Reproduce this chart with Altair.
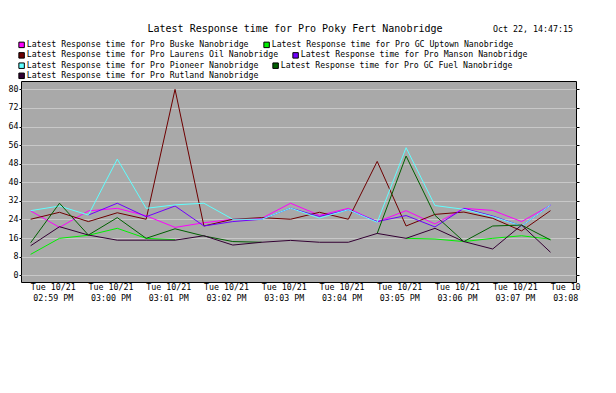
import altair as alt
import pandas as pd

TITLE = "Latest Response time for Pro Poky Fert Nanobridge"
STAMP = "Oct 22, 14:47:15"

SERIES = [
    "Latest Response time for Pro Buske Nanobridge",
    "Latest Response time for Pro GC Uptown Nanobridge",
    "Latest Response time for Pro Laurens Oil Nanobridge",
    "Latest Response time for Pro Manson Nanobridge",
    "Latest Response time for Pro Pioneer Nanobridge",
    "Latest Response time for Pro GC Fuel Nanobridge",
    "Latest Response time for Pro Rutland Nanobridge",
]
COLORS = ["#FF00FF", "#00F000", "#6E0000", "#7000FF", "#60FFFF", "#006000", "#330033"]

# legend entries flow two per line, as in the reference
LEGEND_ROWS = [[0, 1], [2, 3], [4, 5], [6]]
LEGEND_ROW_Y = [-40.3, -29.8, -19.5, -9.3]

TIMES = [
    "2025-10-21T14:58:37Z", "2025-10-21T14:59:07Z", "2025-10-21T14:59:37Z",
    "2025-10-21T15:00:07Z", "2025-10-21T15:00:37Z", "2025-10-21T15:01:07Z",
    "2025-10-21T15:01:37Z", "2025-10-21T15:02:07Z", "2025-10-21T15:02:37Z",
    "2025-10-21T15:03:07Z", "2025-10-21T15:03:37Z", "2025-10-21T15:04:07Z",
    "2025-10-21T15:04:37Z", "2025-10-21T15:05:07Z", "2025-10-21T15:05:37Z",
    "2025-10-21T15:06:07Z", "2025-10-21T15:06:37Z", "2025-10-21T15:07:07Z",
    "2025-10-21T15:07:37Z",
]

BUSKE = [27.7, 20.6, 27.7, 28.8, 25.6, 20.6, 22.6, 24.1, 24.5, 31.0, 25.8, 28.8, 23.0, 27.8, 22.1, 28.8, 27.9, 23.1, 30.1]
GC_UPTOWN = [9.0, 15.9, 17.2, 20.2, 15.9, 15.3, None, None, None, None, None, None, None, 15.9, 15.6, 14.5, 15.9, 17.0, 15.5]
LAURENS_OIL = [24.1, 27.1, 23.1, 26.9, 24.1, 80.0, 21.2, 24.1, 24.8, 24.1, 27.1, 24.1, 49.0, 21.2, 26.2, 27.2, 24.5, 19.1, 27.8]
MANSON = [None, None, 25.9, 31.0, 25.2, 29.8, 21.2, 23.1, 24.1, 28.9, 25.3, 28.2, 23.1, 25.7, 20.8, 28.8, 25.5, 21.2, 30.2]
PIONEER = [27.8, 29.8, 25.9, 50.0, 28.8, 30.3, 31.0, 24.1, 24.1, 28.9, 24.6, 28.2, 22.8, 54.9, 30.0, 28.4, 25.2, 21.2, 30.2]
GC_FUEL = [14.0, 31.0, 17.3, 24.8, 15.9, 20.0, 16.9, 14.5, 14.2, None, None, None, 18.0, 51.3, 25.8, 14.5, 21.2, 21.6, 15.2]
RUTLAND = [12.7, 20.9, 17.3, 15.1, 15.1, 15.1, 17.0, 13.0, 14.2, 15.0, 14.2, 14.2, 18.0, 15.9, 20.2, 14.5, 11.3, 21.6, 9.9]

VALUES = [BUSKE, GC_UPTOWN, LAURENS_OIL, MANSON, PIONEER, GC_FUEL, RUTLAND]

Y_TICKS = [0, 8, 16, 24, 32, 40, 48, 56, 64, 72, 80]
X_TICKS = [(14, 59), (15, 0), (15, 1), (15, 2), (15, 3), (15, 4), (15, 5), (15, 6), (15, 7), (15, 8)]

FONT = "DejaVu Sans Mono"
PLOT_BG = "#A9A9A9"

rows = []
for name, vals in zip(SERIES, VALUES):
    seg = 0
    gap = True
    for t, v in zip(TIMES, vals):
        if v is None:
            gap = True
            continue
        if gap:
            seg += 1
            gap = False
        rows.append({"time": t, "value": v, "series": name, "seg": f"{name}#{seg}"})
df = pd.DataFrame(rows)


def dt(h, m, s=0, ms=0):
    return alt.DateTime(year=2025, month=10, date=21, hours=h, minutes=m,
                        seconds=s, milliseconds=ms, utc=True)


x_scale = alt.Scale(type="utc", domain=[dt(14, 58, 27), dt(15, 8, 3, 500)])
y_scale = alt.Scale(domain=[-2.9, 83.6], nice=False, zero=False)

x_axis = alt.Axis(
    values=[dt(h, m) for h, m in X_TICKS],
    labelExpr="[utcFormat(datum.value, '%a %m/%d'), utcFormat(datum.value, '%I:%M %p')]",
    labelFont=FONT, labelFontSize=8.3, labelColor="black", labelLineHeight=11.5,
    labelBaseline="top", labelPadding=0, labelFlush=False, labelOverlap=False,
    ticks=False, domain=False, grid=False, title=None,
)
y_axis_left = alt.Axis(
    values=Y_TICKS, labelFont=FONT, labelFontSize=8.3, labelColor="black",
    labelPadding=1, tickSize=2, tickColor="black", grid=True, gridColor="#C8C8C8",
    gridOpacity=1, domain=False, title=None, labelOverlap=False,
)
y_axis_right = alt.Axis(
    orient="right", values=Y_TICKS, labels=False, tickSize=3, tickColor="black",
    grid=False, domain=False, title=None,
)

lines = alt.Chart(df).mark_line(strokeWidth=1).encode(
    x=alt.X("time:T", scale=x_scale, axis=x_axis),
    y=alt.Y("value:Q", scale=y_scale, axis=y_axis_left),
    stroke=alt.Stroke("series:N", scale=alt.Scale(domain=SERIES, range=COLORS), legend=None),
    detail="seg:N",
)

# invisible layer that only carries the right-hand tick axis
axis_layer = alt.Chart(df).mark_square(filled=True, size=0).encode(
    x=alt.X("time:T", scale=x_scale, axis=x_axis),
    y=alt.Y("value:Q", scale=y_scale, axis=y_axis_right),
)

legend_layers = []
for r, idx in enumerate(LEGEND_ROWS):
    names = [SERIES[i] for i in idx]
    cols = [COLORS[i] for i in idx]
    legend_layers.append(
        alt.Chart(pd.DataFrame({"series": names})).mark_square(filled=True, size=0).encode(
            fill=alt.Fill(
                "series:N",
                scale=alt.Scale(domain=names, range=cols),
                legend=alt.Legend(
                    orient="none", legendX=-3.5, legendY=LEGEND_ROW_Y[r],
                    direction="horizontal", gridAlign="each", columnPadding=12,
                    symbolType="square", symbolSize=30, symbolStrokeColor="black",
                    symbolStrokeWidth=1, symbolOpacity=1, labelFont=FONT,
                    labelFontSize=8.2, labelColor="black", labelLimit=400,
                    labelOffset=1, title=None, padding=0,
                ),
            )
        )
    )

stamp = alt.Chart(pd.DataFrame({"label": [STAMP]})).mark_text(
    font=FONT, fontSize=8.3, align="left", baseline="alphabetic", color="black"
).encode(x=alt.value(472), y=alt.value(-48.7), text="label:N")

chart = alt.layer(lines, axis_layer, *legend_layers, stamp).resolve_axis(
    y="independent"
).resolve_scale(fill="independent").properties(
    width=555,
    height=201,
    title=alt.TitleParams(TITLE, font=FONT, fontSize=10, fontWeight="normal", color="black",
                          anchor="middle", dx=-3.5, dy=17, offset=8),
    padding={"left": 13, "top": 73, "right": 5, "bottom": 30},
    autosize=alt.AutoSizeParams(type="none"),
    background="white",
    view=alt.ViewBackground(fill=PLOT_BG, stroke="black", strokeWidth=1),
).configure_view(fill=PLOT_BG, stroke="black", strokeWidth=1)

chart.save("out.html", embed_options={"renderer": "svg", "actions": False})
